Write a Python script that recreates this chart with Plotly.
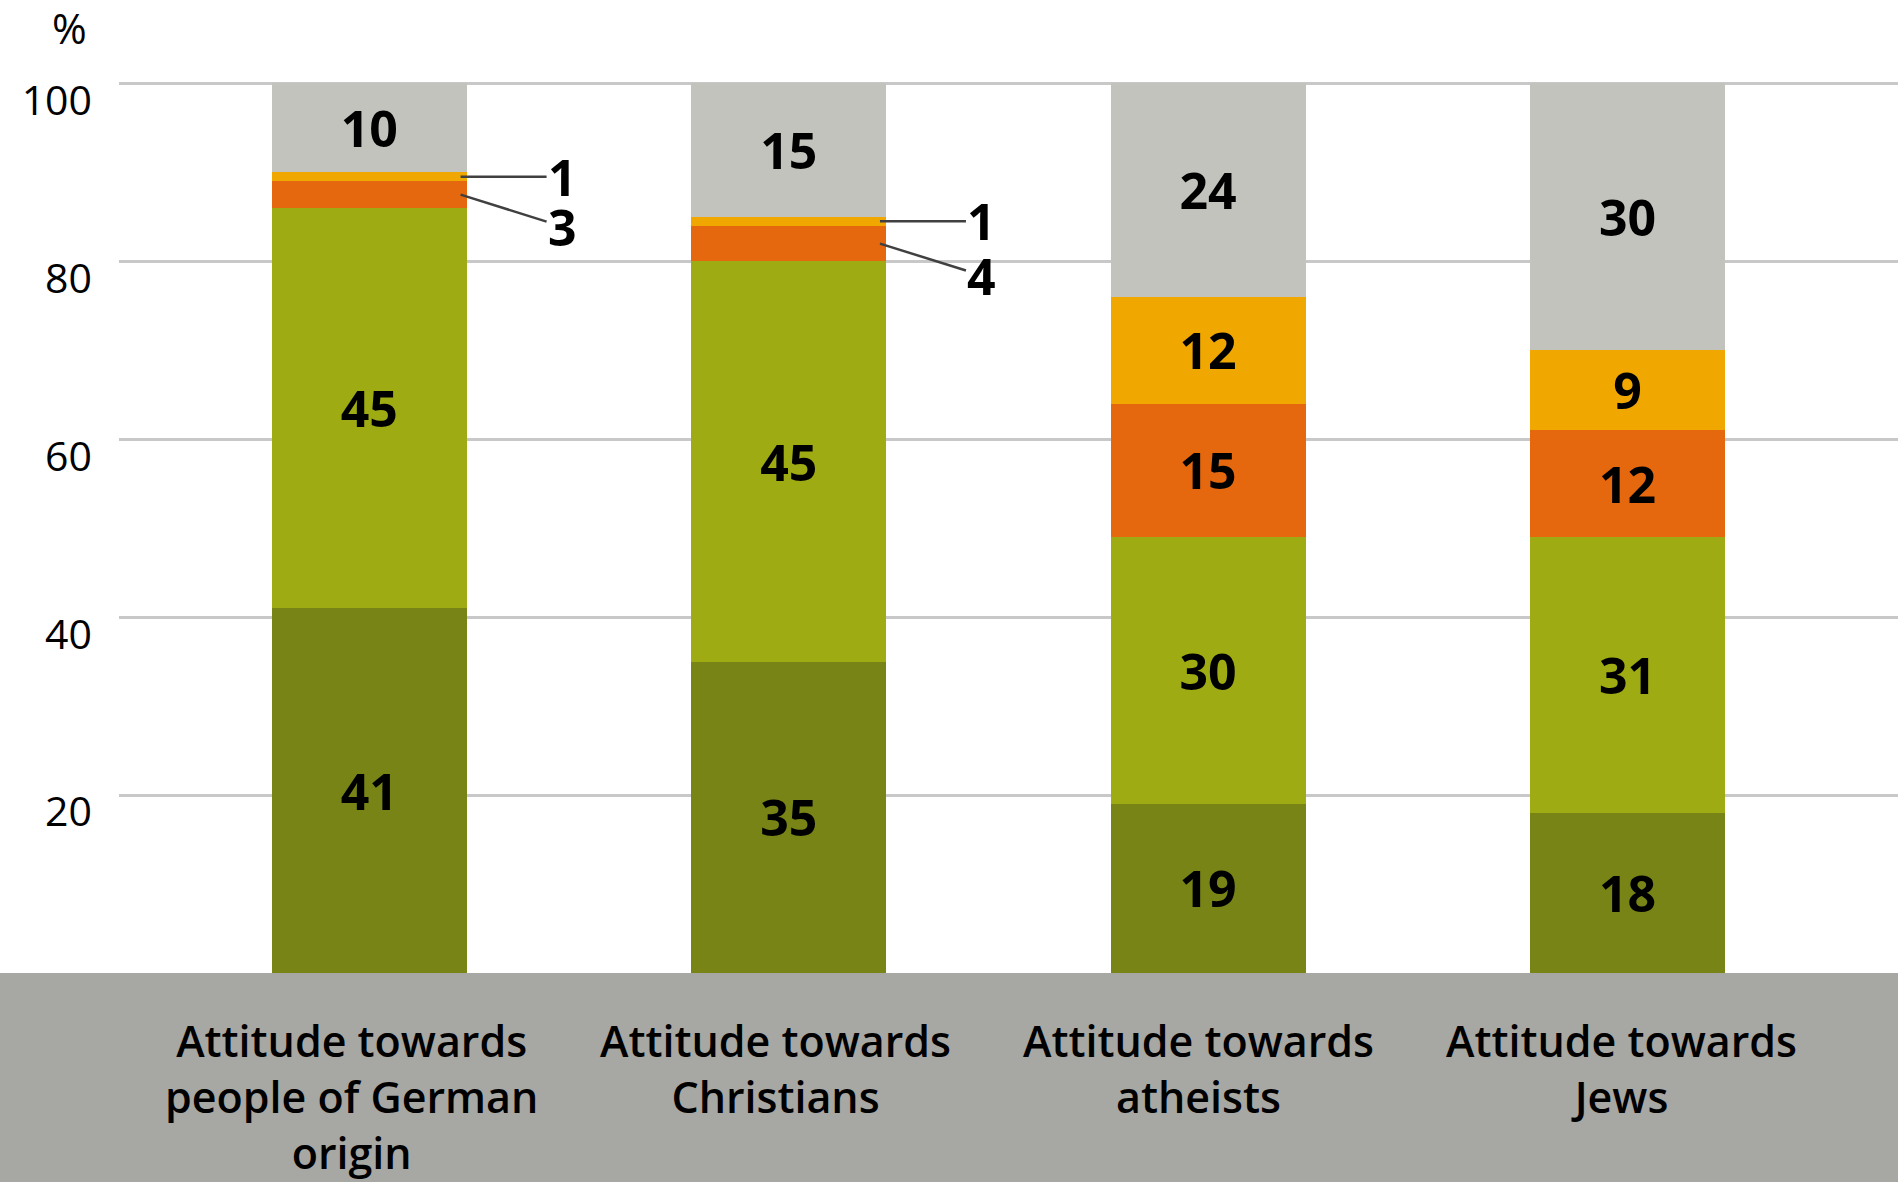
import plotly.graph_objects as go

categories = [
    "Attitude towards<br>people of German<br>origin",
    "Attitude towards<br>Christians",
    "Attitude towards<br>atheists",
    "Attitude towards<br>Jews",
]
series_names = ["Very positive", "Rather positive", "Rather threatening", "Very threatening", "No answer"]
very_positive = [41, 35, 19, 18]
rather_positive = [45, 45, 30, 31]
rather_threat = [3, 4, 15, 12]
very_threat = [1, 1, 12, 9]
no_answer = [10, 15, 24, 30]
y_ticks = [20, 40, 60, 80, 100]

series = [very_positive, rather_positive, rather_threat, very_threat, no_answer]
colors = ["#788415", "#9eab12", "#e5680e", "#f0a800", "#c3c3be"]

FONT = "Open Sans, Liberation Sans, sans-serif"
BAR_WIDTH = 0.465
label_nudge = [-18, -13, -10, -6]

x = list(range(len(categories)))
fig = go.Figure()

for name, vals, col in zip(series_names, series, colors):
    fig.add_trace(go.Bar(
        x=x, y=vals, name=name,
        marker=dict(color=col, line=dict(width=0)),
        width=BAR_WIDTH,
        text=[str(v) if v >= 5 else "" for v in vals],
        textposition="inside",
        insidetextanchor="middle",
        textangle=0,
        constraintext="none",
        textfont=dict(family=FONT, size=50, color="black", weight="bold"),
        hoverinfo="skip",
    ))

# small segments get labels outside the bar with leader lines
annotations = []
for i in x:
    base = 0
    for k, vals in enumerate(series):
        v = vals[i]
        if v < 5:
            mid = base + v / 2
            annotations.append(dict(
                x=i + BAR_WIDTH / 2 - 0.015, y=mid, xref="x", yref="y",
                text=str(v), showarrow=True, arrowhead=0, arrowwidth=2.5,
                arrowcolor="#404040", standoff=0,
                ax=102, ay=0 if k == 3 else 32,
                font=dict(family=FONT, size=50, color="black", weight="bold"),
            ))
        base += v

for i, lab in enumerate(categories):
    annotations.append(dict(
        x=i, y=0, xref="x", yref="paper", text=lab, showarrow=False,
        xanchor="center", yanchor="top", yshift=-36, xshift=label_nudge[i],
        font=dict(family=FONT, size=43, color="black", weight=600),
    ))

annotations.append(dict(
    x=0, y=1, xref="paper", yref="paper", text="%", showarrow=False,
    xanchor="center", yanchor="middle", xshift=-50, yshift=52,
    font=dict(family=FONT, size=42, color="black"),
))

fig.update_layout(
    barmode="stack",
    width=1898, height=1182,
    margin=dict(l=119, r=0, t=79, b=209),
    paper_bgcolor="white",
    plot_bgcolor="white",
    showlegend=False,
    annotations=annotations,
    shapes=[dict(
        type="rect", xref="paper", yref="paper",
        x0=-0.1, x1=1.05, y0=-0.3, y1=0,
        fillcolor="#a7a7a3", line=dict(width=0), layer="below",
    )],
    xaxis=dict(
        range=[-0.597, 3.645], showticklabels=False, showgrid=False,
        zeroline=False, showline=False, fixedrange=True,
    ),
    yaxis=dict(
        range=[0, 100.5], tickvals=y_ticks, ticktext=[str(t) for t in y_ticks],
        showgrid=True, gridcolor="#c8c8c8", gridwidth=2.5,
        zeroline=False, showline=False, ticks="",
        ticklabelshift=17, ticklabelstandoff=26,
        tickfont=dict(family=FONT, size=41, color="black"),
    ),
)

# drop the browser's default body margin so the figure sits at the page corner
fig.write_html("out.html", config={"displayModeBar": False},
               post_script="document.body.style.margin='0';")
